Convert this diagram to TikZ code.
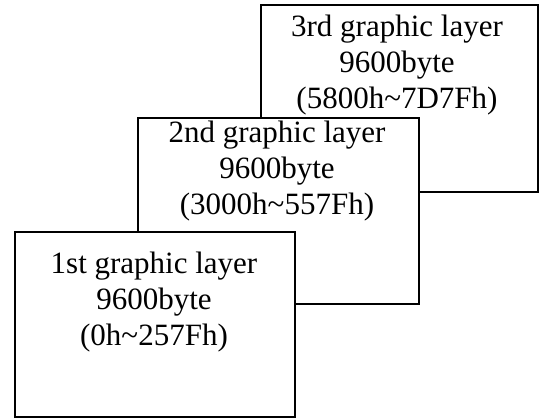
\documentclass[tikz,border=0pt]{standalone}
\usepackage{fontspec}
\setmainfont{Liberation Serif}
\begin{document}
\begin{tikzpicture}[x=1pt,y=-1pt,
  layerbox/.style={draw=black, line width=1.6pt, fill=white, rectangle, inner sep=0pt, outer sep=0pt},
  layertext/.style={align=center, inner sep=0pt, font=\fontsize{31}{36}\selectfont}]
\useasboundingbox (0,0) rectangle (541,419);
% back to front
\node[layerbox, minimum width=277pt, minimum height=187pt] (box3) at (399.5,98.5) {};
\node[layertext] (t3) at (397,65) {3rd graphic layer\\9600byte\\(5800h\textasciitilde7D7Fh)};
\node[layerbox, minimum width=281pt, minimum height=186pt] (box2) at (278.5,211) {};
\node[layertext] (t2) at (277,171) {2nd graphic layer\\9600byte\\(3000h\textasciitilde557Fh)};
\node[layerbox, minimum width=280pt, minimum height=185pt] (box1) at (155,324.5) {};
\node[layertext] (t1) at (154,302) {1st graphic layer\\9600byte\\(0h\textasciitilde257Fh)};
\end{tikzpicture}
\end{document}
